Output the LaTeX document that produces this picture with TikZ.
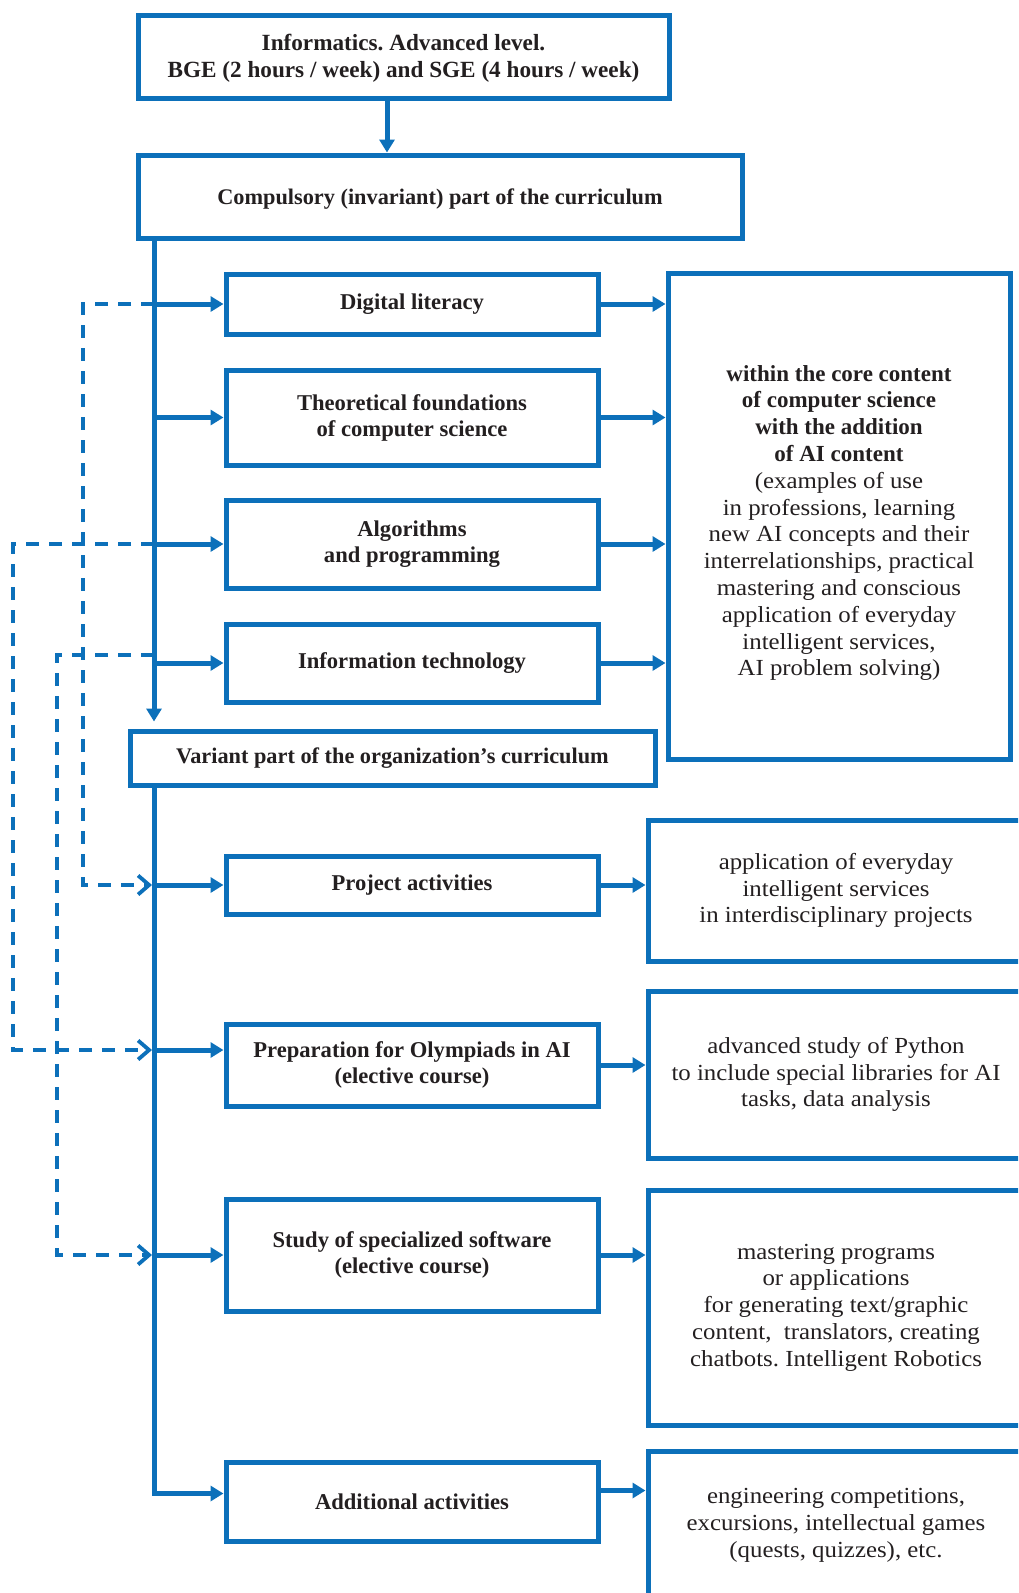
\documentclass[tikz,border=0pt]{standalone}
\usepackage{fontspec}
\usepackage{tikz}
\usepackage{xcolor}
\setmainfont{Liberation Serif}
\newfontfamily\bodyfont{Liberation Serif}[FakeStretch=1.08]
\usetikzlibrary{arrows.meta}
\definecolor{schemeblue}{RGB}{12,112,186}
\definecolor{inkdark}{RGB}{35,31,32}
\newcommand{\boldtext}{\fontsize{22.6}{26}\selectfont\rmfamily\bfseries}
\newcommand{\headtext}{\fontsize{23.2}{26.5}\selectfont\rmfamily\bfseries}
\newcommand{\plaintext}{\fontsize{23}{26.8}\selectfont\bodyfont}
\newcommand{\hl}[1]{{\rmfamily\bfseries #1}}
\frenchspacing

\begin{document}
\begin{tikzpicture}[x=1pt, y=-1pt,
  box/.style={rectangle, draw=schemeblue, line width=5pt, align=center, text=inkdark, inner sep=0pt},
  leftbox/.style={box, minimum width=372pt, font=\boldtext},
  note/.style={box, minimum width=376pt, font=\plaintext},
  flow/.style={draw=schemeblue, line width=5pt, -{Triangle[length=13pt,width=15pt]}},
  link/.style={draw=schemeblue, line width=3.8pt, dash pattern=on 13pt off 10pt, shorten >=2pt, -{Straight Barb[length=11pt,width=19pt]}}]
\useasboundingbox (0,0) rectangle (1018,1593);
\clip (0,0) rectangle (1018,1593);

\node[box, minimum width=531pt, minimum height=83pt, font=\headtext] (Top) at (403.5,56.5) {\rule{0pt}{20pt}Informatics. Advanced level.\\BGE (2 hours / week) and SGE (4 hours / week)};
\node[box, minimum width=604pt, minimum height=83pt, font=\fontsize{22.3}{26}\selectfont\bfseries] (Comp) at (440,196.5) {\rule{0pt}{20pt}Compulsory (invariant) part of the curriculum};

\node[leftbox, minimum height=60pt] (D1) at (412,304) {Digital literacy};
\node[leftbox, minimum height=95pt] (D2) at (412,417.5) {Theoretical foundations\\of computer science};
\node[leftbox, minimum height=88pt] (D3) at (412,544) {Algorithms\\and programming};
\node[leftbox, minimum height=78pt] (D4) at (412,663) {Information technology};
\node[box, minimum width=342pt, minimum height=486pt, font=\plaintext] (Core) at (839,516) {\rule{0pt}{30pt}\hl{within the core content}\\\hl{of computer science}\\\hl{with the addition}\\\hl{of AI content}\\(examples of use\\in professions, learning\\new AI concepts and their\\interrelationships, practical\\mastering and conscious\\application of everyday\\intelligent services,\\AI problem solving)};

\node[box, minimum width=525pt, minimum height=54pt, font=\fontsize{22.3}{26}\selectfont\bfseries] (Var) at (392.5,758) {Variant part of the organization’s curriculum};

\node[leftbox, minimum height=58pt] (V1) at (412,885) {Project activities};
\node[leftbox, minimum height=82pt] (V2) at (412,1065) {Preparation for Olympiads in AI\\(elective course)};
\node[leftbox, minimum height=112pt] (V3) at (412,1255) {Study of specialized software\\(elective course)};
\node[leftbox, minimum height=79pt] (V4) at (412,1501.5) {Additional activities};
\node[note, minimum height=141pt] (R1) at (836,890.5) {application of everyday\\intelligent services\\in interdisciplinary projects};
\node[note, minimum height=167pt] (R2) at (836,1074.5) {advanced study of Python\\to include special libraries for AI\\tasks, data analysis};
\node[note, minimum height=235pt] (R3) at (836,1307.5) {mastering programs\\or applications\\for generating text/graphic\\content,\ \ translators, creating\\chatbots. Intelligent Robotics};
\node[note, minimum height=149pt] (R4) at (836,1525.5) {engineering competitions,\\excursions, intellectual games\\(quests, quizzes), etc.};

\coordinate (Drop) at (387,0);
\coordinate (Spine) at (154,0);
\coordinate (LA) at (83,0);
\coordinate (LB) at (13,0);
\coordinate (LC) at (57,0);
\coordinate (V2in) at ([yshift=15pt]V2.west);
\coordinate (D4out) at ([yshift=8pt]D4.west);

\draw[link] (Spine |- D1.west) -| (LA |- V1.west) -- (Spine |- V1.west);
\draw[link] (Spine |- D3.west) -| (LB |- V2in) -- (Spine |- V2in);
\draw[link] (Spine |- D4out) -| (LC |- V3.west) -- (Spine |- V3.west);

\draw[flow] (Drop |- Top.south) -- (Drop |- Comp.north);
\draw[flow, shorten >=7pt] (Spine |- Comp.south) -- (Spine |- Var.north);
\draw[flow] (Spine |- Var.south) |- ([yshift=8pt]V4.west);
\foreach \n in {D1,D2,D3,D4,V1,V3}
  \draw[flow] (Spine |- \n.west) -- (\n.west);
\draw[flow] (Spine |- V2in) -- (V2in);
\foreach \n in {D1,D2,D3,D4}
  \draw[flow] (\n.east) -- (\n.east -| Core.west);
\foreach \n/\m in {V1/R1,V2/R2,V3/R3}
  \draw[flow] (\n.east) -- (\n.east -| \m.west);
\draw[flow] ([yshift=11pt]V4.east) -- ([yshift=11pt]V4.east -| R4.west);
\end{tikzpicture}
\end{document}
